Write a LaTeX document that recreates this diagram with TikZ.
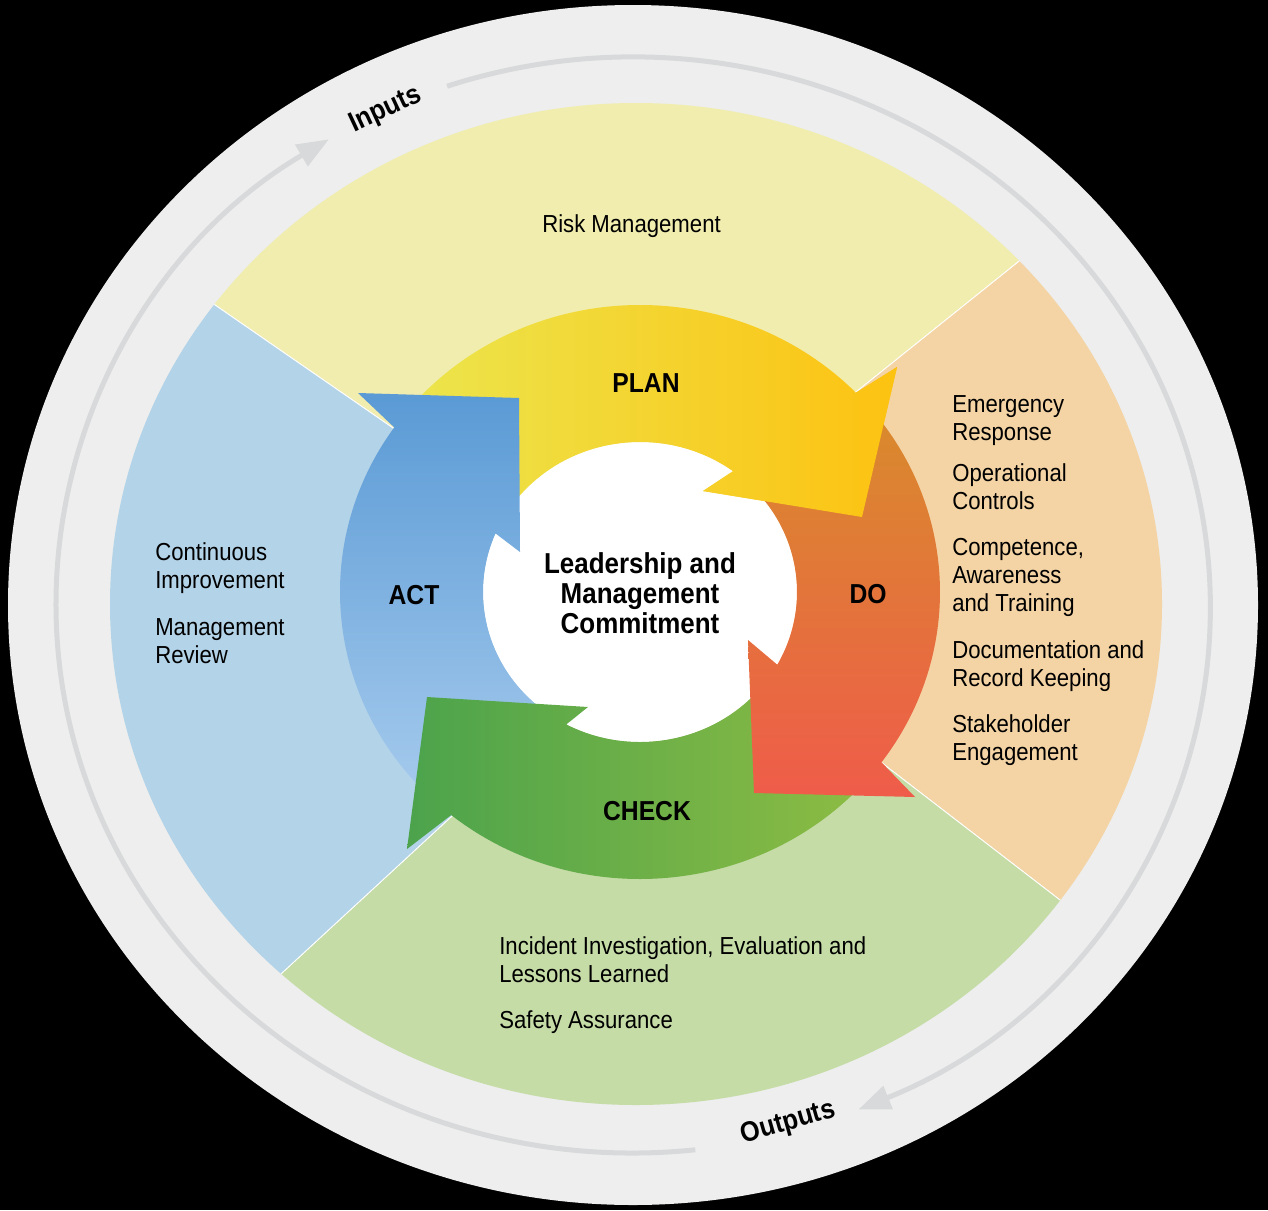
\documentclass[tikz,border=0pt]{standalone}
\usepackage{fontspec}
\setmainfont{Liberation Sans}[FakeStretch=0.9]
\usepackage{tikz}
\usetikzlibrary{arrows.meta}

\definecolor{ringgray}{HTML}{EDEEED}
\definecolor{trackgray}{HTML}{D8D9DA}
\definecolor{riskyellow}{HTML}{F1EDAE}
\definecolor{dopeach}{HTML}{F4D4A5}
\definecolor{checkgreen}{HTML}{C5DCA7}
\definecolor{actblue}{HTML}{B3D3E8}
\definecolor{planA}{HTML}{EBE64E}
\definecolor{planB}{HTML}{FDC211}
\definecolor{doA}{HTML}{D88B2C}
\definecolor{doB}{HTML}{EF5C4A}
\definecolor{checkA}{HTML}{4CA34C}
\definecolor{checkB}{HTML}{8DBC43}
\definecolor{actA}{HTML}{5A9AD5}
\definecolor{actB}{HTML}{A8CCEE}

\tikzset{
  listtext/.style={anchor=base west, align=left, inner sep=0pt, font=\fontsize{17.5}{19.9}\selectfont},
  phase/.style={anchor=base, inner sep=0pt, font=\fontsize{19.5}{22}\selectfont\bfseries},
  flow/.style={inner sep=0pt, font=\fontsize{20}{22}\selectfont\bfseries},
  track/.style={draw=trackgray, line width=0.125cm},
  sector/.style={draw=white, line width=0.6pt},
}

\begin{document}
\begin{tikzpicture}[x=0.025cm, y=-0.025cm]
	\fill[black] (0,0) rectangle (1268,1210);
	\useasboundingbox (0,0) rectangle (1268,1210);
	\coordinate (C) at (633,605);
	\coordinate (S) at (636,604);
	\coordinate (O) at (640,592);

	% grey ring with the input / output track
	\fill[ringgray] (C) ellipse [x radius=625, y radius=600];
	\draw[track, -{Triangle[length=0.8cm, width=0.6cm]}] ([shift={(-108.8:577 and 548)}]C) arc[start angle=-108.8, end angle=67, x radius=577, y radius=548];
	\draw[track, -{Triangle[length=0.8cm, width=0.6cm]}] ([shift={(83.8:577 and 548)}]C) arc[start angle=83.8, end angle=238.2, x radius=577, y radius=548];
	\node[flow, rotate=25] (inputs) at (386,110) {Inputs};
	\node[flow, rotate=16] (outputs) at (788,1123) {Outputs};

	% outer sectors
	\begin{scope}
		\clip (S) ellipse [x radius=526, y radius=501];
		\filldraw[sector, fill=riskyellow] (O) -- (393,428) -- (37,182) -- (37,-50) -- (1300,-50) -- (1261,67) -- (856,392) -- cycle;
		\filldraw[sector, fill=dopeach] (O) -- (856,392) -- (1261,67) -- (1300,67) -- (1300,1100) -- (1238,1037) -- (882,763) -- cycle;
		\filldraw[sector, fill=checkgreen] (O) -- (882,763) -- (1238,1037) -- (1238,1250) -- (0,1250) -- (114,1128) -- (452,816) -- cycle;
		\filldraw[sector, fill=actblue] (O) -- (452,816) -- (114,1128) -- (-50,1128) -- (-50,182) -- (37,182) -- (393,428) -- cycle;
	\end{scope}

	\fill[white] (O) ellipse [x radius=157, y radius=150];

	% PLAN
	\begin{scope}
		\clip ([shift={(218:300 and 287)}]O) arc[start angle=218, end angle=316, x radius=300, y radius=287] -- (897,367) -- (862,517) -- (703,491) -- ([shift={(306.3:157 and 150)}]O) arc[start angle=306.3, end angle=218, x radius=157, y radius=150] -- cycle;
		\shade[left color=planA, right color=planB] (400,290) rectangle (900,530);
	\end{scope}
	% ACT
	\shade[top color=actA, bottom color=actB] ([shift={(130:300 and 287)}]O) arc[start angle=130, end angle=215, x radius=300, y radius=287] -- (358,393) -- (519,398) -- (520,552) -- ([shift={(203:157 and 150)}]O) arc[start angle=203, end angle=130, x radius=157, y radius=150] -- cycle;
	% CHECK
	\shade[left color=checkA, right color=checkB] ([shift={(40:300 and 287)}]O) arc[start angle=40, end angle=129, x radius=300, y radius=287] -- (407,849) -- (427,697) -- (588,707) -- ([shift={(118:157 and 150)}]O) arc[start angle=118, end angle=40, x radius=157, y radius=150] -- cycle;
	% DO
	\shade[top color=doA, bottom color=doB] ([shift={(-40:300 and 287)}]O) arc[start angle=-40, end angle=36.4, x radius=300, y radius=287] -- (915,797) -- (754,793) -- (748,640) -- ([shift={(29:157 and 150)}]O) arc[start angle=29, end angle=-40, x radius=157, y radius=150] -- cycle;
	% PLAN head again, over the tail of DO
	\begin{scope}
		\clip (897,367) -- (862,517) -- (703,491) -- cycle;
		\shade[left color=planA, right color=planB] (400,290) rectangle (900,530);
	\end{scope}

	\node[phase] (plan) at (646,392) {PLAN};
	\node[phase] (do) at (868,603) {DO};
	\node[phase] (check) at (647,820) {CHECK};
	\node[phase] (act) at (414,604) {ACT};
	\node[anchor=base, align=center, inner sep=0pt, font=\fontsize{20.5}{21.3}\selectfont\bfseries] (lead) at (640,633) {Leadership and\\Management\\Commitment};

	% base of a block is the base of its last line
	\node[listtext] (risk) at (542,232) {Risk Management};
	\node[listtext] (emer) at (952,440) {Emergency\\Response};
	\node[listtext] (oper) at (952,509) {Operational\\Controls};
	\node[listtext] (comp) at (952,611) {Competence,\\Awareness\\and Training};
	\node[listtext] (docu) at (952,686) {Documentation and\\Record Keeping};
	\node[listtext] (stake) at (952,760) {Stakeholder\\Engagement};
	\node[listtext] (cont) at (155,588) {Continuous\\Improvement};
	\node[listtext] (mgmt) at (155,663) {Management\\Review};
	\node[listtext] (inc) at (499,982) {Incident Investigation, Evaluation and\\Lessons Learned};
	\node[listtext] (safe) at (499,1028) {Safety Assurance};
\end{tikzpicture}
\end{document}
